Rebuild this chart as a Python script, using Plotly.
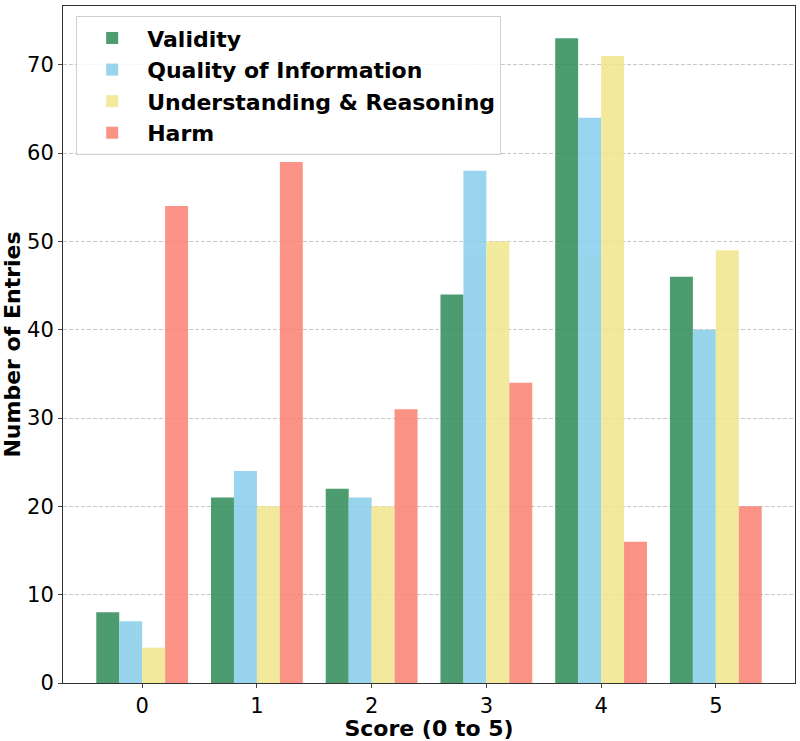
import plotly.graph_objects as go

scores = [0, 1, 2, 3, 4, 5]
validity = [8, 21, 22, 44, 73, 46]
quality = [7, 24, 21, 58, 64, 40]
understanding = [4, 20, 20, 50, 71, 49]
harm = [54, 59, 31, 34, 16, 20]

series = [
    ("Validity", validity, "#2E8B57"),
    ("Quality of Information", quality, "#87CEEB"),
    ("Understanding & Reasoning", understanding, "#F0E68C"),
    ("Harm", harm, "#FA8072"),
]

fig = go.Figure()
for name, vals, col in series:
    fig.add_trace(go.Bar(x=scores, y=vals, name=name, marker_color=col,
                         marker_line_width=0, opacity=0.85))

fig.update_layout(
    width=800, height=741,
    margin=dict(l=63, r=5, t=6, b=58, autoexpand=False),
    paper_bgcolor="white", plot_bgcolor="white",
    barmode="group", bargap=0.2, bargroupgap=0,
    font=dict(family="DejaVu Sans", size=21, color="black"),
    legend=dict(x=0.018, y=0.985, xanchor="left", yanchor="top",
                bgcolor="rgba(255,255,255,0.8)", bordercolor="#d0d0d0", borderwidth=1,
                font=dict(size=22, family="DejaVu Sans", weight="bold"),
                itemwidth=60),
    showlegend=True,
)
fig.update_xaxes(
    range=[-0.69, 5.69], tickvals=scores, ticks="outside", ticklen=4,
    tickfont=dict(size=21),
    showline=True, linecolor="#333", linewidth=1, mirror=True, showgrid=False,
    automargin=False,
    title=dict(text="<b>Score (0 to 5)</b>", font=dict(size=22), standoff=0),
)
fig.update_yaxes(
    range=[0, 76.65], dtick=10, ticks="outside", ticklen=4,
    tickfont=dict(size=21),
    showline=True, linecolor="#333", linewidth=1, mirror=True,
    showgrid=True, gridcolor="#c8c8c8", griddash="4px,2px", gridwidth=1,
    zeroline=False, automargin=False,
    title=dict(text="<b>Number of Entries</b>", font=dict(size=22), standoff=6),
)

# page body has a default 8px margin; drop it so the figure sits at 0,0
fig.write_html("out.html", config={"displayModeBar": False},
               post_script="document.body.style.margin='0';")
